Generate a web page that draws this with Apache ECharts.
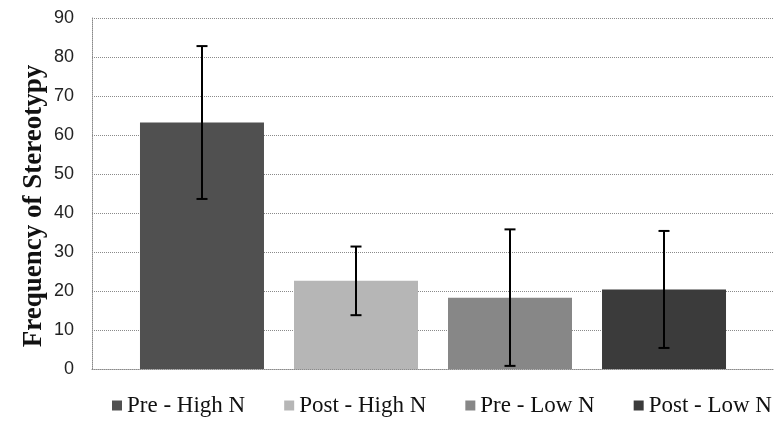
<!DOCTYPE html>
<html>
<head>
<meta charset="utf-8">
<script src="https://cdn.jsdelivr.net/npm/echarts@6/dist/echarts.min.js"></script>
<style>
  html, body { margin: 0; padding: 0; background: #fff; }
  #chart { width: 775px; height: 423px; }
</style>
</head>
<body>
<div id="chart"></div>
<script>
// ---- data ----
const categories = ['Frequency of Stereotypy'];
const seriesNames = ['Pre - High N', 'Post - High N', 'Pre - Low N', 'Post - Low N'];
const means = [63.2, 22.6, 18.3, 20.4];
const errors = [19.6, 8.8, 17.5, 15.0];
const yTitle = 'Frequency of Stereotypy';
const yMin = 0, yMax = 90, yInterval = 10;

// ---- styles ----
const colors = ['#505050', '#b6b6b6', '#878787', '#3b3b3b'];
const BAR_W = 124;
const GAP_PX = 30;

const chart = echarts.init(document.getElementById('chart'), null, { renderer: 'canvas' });

const barSeries = seriesNames.map((name, i) => ({
  name: name,
  type: 'bar',
  data: [means[i]],
  barWidth: BAR_W,
  barGap: (GAP_PX / BAR_W * 100).toFixed(1) + '%',
  itemStyle: { color: colors[i] },
  emphasis: { disabled: true },
  silent: true
}));

const errData = means.map((m, i) => [0, m - errors[i], m + errors[i], i]);

const errSeries = {
  type: 'custom',
  name: 'error',
  silent: true,
  encode: { x: 0, y: [1, 2] },
  data: errData,
  z: 10,
  renderItem: function (params, api) {
    const idx = api.value(3);
    const n = seriesNames.length;
    const offset = (idx - (n - 1) / 2) * (BAR_W + GAP_PX);
    const lo = api.coord([api.value(0), api.value(1)]);
    const hi = api.coord([api.value(0), api.value(2)]);
    const x = lo[0] + offset;
    const capHalf = 5.5;
    const style = { stroke: '#000', lineWidth: 2 };
    return {
      type: 'group',
      children: [
        { type: 'line', shape: { x1: x, y1: hi[1], x2: x, y2: lo[1] }, style: style },
        { type: 'line', shape: { x1: x - capHalf, y1: hi[1], x2: x + capHalf, y2: hi[1] }, style: style },
        { type: 'line', shape: { x1: x - capHalf, y1: lo[1], x2: x + capHalf, y2: lo[1] }, style: style }
      ]
    };
  }
};

chart.setOption({
  animation: false,
  backgroundColor: '#ffffff',
  grid: { left: 92, right: 1, top: 18, bottom: 54, containLabel: false },
  graphic: [{
    type: 'text',
    x: 34,
    y: 206,
    rotation: Math.PI / 2,
    style: {
      text: yTitle,
      fontFamily: 'Liberation Serif',
      fontWeight: 'bold',
      fontSize: 27,
      fill: '#111',
      align: 'center',
      verticalAlign: 'middle'
    }
  }],
  legend: {
    data: seriesNames,
    top: 394,
    left: 112,
    padding: 0,
    icon: 'rect',
    itemWidth: 10,
    itemHeight: 10,
    itemGap: 39,
    textStyle: { fontFamily: 'Liberation Serif', fontSize: 23, color: '#111' },
    selectedMode: false
  },
  xAxis: {
    type: 'category',
    data: categories,
    axisLabel: { show: false },
    axisTick: { show: false },
    axisLine: { show: true, lineStyle: { color: '#8a8a8a', type: 'dotted', width: 1 } },
    splitLine: { show: false }
  },
  yAxis: {
    type: 'value',
    min: yMin,
    max: yMax,
    interval: yInterval,
    axisLabel: { fontFamily: 'Liberation Sans', fontSize: 18, color: '#222', margin: 18 },
    axisTick: { show: false },
    axisLine: { show: true, lineStyle: { color: '#8a8a8a', type: 'dotted', width: 1 } },
    splitLine: { show: true, lineStyle: { color: '#8a8a8a', type: 'dotted', width: 1 } }
  },
  series: barSeries.concat([errSeries])
});
</script>
</body>
</html>
